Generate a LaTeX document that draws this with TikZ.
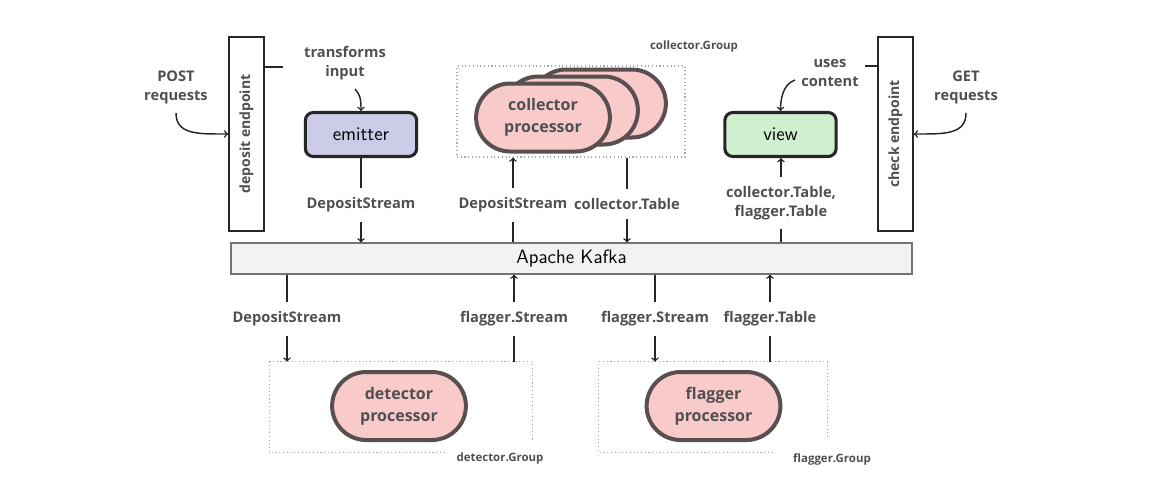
\documentclass[tikz,border=0pt]{standalone}
\usepackage{fontspec}
\setmainfont{Open Sans}
\usetikzlibrary{calc,positioning,arrows,shapes.misc,fit}

\definecolor{txt}{HTML}{505050}
\definecolor{pillfill}{HTML}{F8CACA}
\definecolor{pilldraw}{HTML}{594F4F}
\definecolor{emitfill}{HTML}{CCCCE8}
\definecolor{viewfill}{HTML}{CEF0CE}
\definecolor{kafkafill}{HTML}{F2F2F2}

\tikzset{
  lbl/.style={font=\bfseries\fontsize{11}{14.2}\selectfont,text=txt,align=center,inner sep=1pt,outer sep=6pt},
  grplbl/.style={font=\bfseries\fontsize{8.6}{10}\selectfont,text=txt},
  endpt/.style={draw=black!85,line width=1.3pt,fill=white,minimum width=26.25pt,minimum height=145.5pt},
  eptxt/.style={font=\bfseries\fontsize{10.5}{12}\selectfont,text=txt},
  pill/.style={rounded rectangle,draw=pilldraw,line width=3pt,fill=pillfill,minimum width=107pt,minimum height=51pt,
    align=center,text=txt,font=\bfseries\fontsize{12}{16.5}\selectfont},
  svc/.style={draw=black!85,line width=2.3pt,rounded corners=6pt,minimum width=83.5pt,minimum height=33pt,
    font=\sffamily\fontsize{14.5}{16}\selectfont},
  kafkabar/.style={draw=black!55,line width=.9pt,fill=kafkafill,minimum width=510.75pt,minimum height=23.25pt,
    font=\sffamily\fontsize{14.5}{16}\selectfont},
  grpbox/.style={inner sep=0pt,minimum height=67.5pt},
  grp/.style={draw=gray!70,dotted,line width=.8pt},
  flow/.style={line width=1.1pt,draw=black!85},
}

\begin{document}
\begin{tikzpicture}[x=0.75pt,y=-0.75pt]
  \useasboundingbox (0,0) rectangle (1149,490);

  % endpoints
  \node[endpt] (dep) at (246.5,134) {};
  \node[eptxt,rotate=90] (deptxt) at (dep) {deposit endpoint};
  \node[endpt] (chk) at (895.5,134) {};
  \node[eptxt,rotate=90] (chktxt) at (chk) {check endpoint};

  % emitter, view and kafka
  \node[svc,fill=emitfill] (emitter) at (361,134.5) {emitter};
  \node[svc,fill=viewfill] (view) at (780.5,134.5) {view};
  \node[kafkabar] (kafka) at (571.5,258.5) {Apache Kafka};

  % processors and their groups
  \node[grp,minimum width=171pt,minimum height=68.25pt] (cgrp) at (571,111.5) {};
  \foreach \k in {2,1}
  \node[pill] (cp\k) at ($(543,117.5)+(28*\k,-7*\k)$) {}
  ;
  \node[pill] (cp) at (543,117.5) {collector\\processor};

  \node[grpbox,minimum width=196.5pt] (dgrp) at (401,407) {};
  \draw[grp] ($(dgrp.south west)+(175,0)$) -- (dgrp.south west) -- (dgrp.north west)
    -- (dgrp.north east) -- ($(dgrp.north east)+(0,78)$);
  \node[pill] (det) at (399,406) {detector\\processor};

  \node[grpbox,minimum width=171pt] (fgrp) at (713,407) {};
  \draw[grp] ($(fgrp.south west)+(174,0)$) -- (fgrp.south west) -- (fgrp.north west)
    -- (fgrp.north east) -- ($(fgrp.north east)+(0,78)$);
  \node[pill] (flg) at (713.5,406) {flagger\\processor};

  \node[grplbl] (cgl) at (694,47) {collector.Group};
  \node[grplbl] (dgl) at (500,459) {detector.Group};
  \node[grplbl] (fgl) at (832,459) {flagger.Group};

  % requests
  \node[lbl] (post) at (176,87) {POST\\requests};
  \draw[flow,->] (post.south) .. controls +(0,22) and +(-30,0) .. (dep.west);
  \node[lbl] (get) at (966,87) {GET\\requests};
  \draw[flow,->] (get.south) .. controls +(0,22) and +(30,0) .. (chk.east);

  \node[lbl] (tin) at (345,63) {transforms\\input};
  \coordinate (tinend) at (283,67);
  \draw[flow] (tinend) -- (tinend -| dep.east);
  \draw[flow,->] ($(tin.south)+(10,0)$) .. controls +(6,6) and +(0,-10) .. (emitter.north);

  \node[lbl] (uc) at (830,73) {uses\\content};
  \coordinate (ucend) at (865,66);
  \draw[flow] (ucend) -- (ucend -| chk.west);
  \draw[flow,->] ($(uc.west)+(3,7)$) .. controls +(-12,4) and +(0,-12) .. (view.north);

  % topics above kafka
  \node[lbl] (ds1) at (361,205) {DepositStream};
  \draw[flow] (emitter) -- (ds1);
  \draw[flow,->] (ds1) -- (ds1 |- kafka.north);

  \node[lbl] (ds2) at (513,205) {DepositStream};
  \draw[flow] (kafka.north -| ds2) -- (ds2);
  \draw[flow,->] (ds2) -- (ds2 |- cgrp.south);

  \node[lbl] (ct) at (627,204) {collector.Table};
  \draw[flow] (ct |- cgrp.south) -- (ct);
  \draw[flow,->] (ct) -- (ct |- kafka.north);

  \node[lbl] (cft) at (781,203) {collector.Table,\\flagger.Table};
  \draw[flow] (kafka.north -| cft) -- (cft);
  \draw[flow,->] (cft) -- (cft |- view.south);

  % topics below kafka
  \foreach \n/\x/\t in {ds3/287/DepositStream,fs1/514/flagger.Stream,fs2/655/flagger.Stream,ft/770/flagger.Table}
  \node[lbl] (\n) at (\x,319) {\t}
  ;
  \draw[flow] (kafka.south -| ds3) -- (ds3);
  \draw[flow,->] (ds3) -- (ds3 |- dgrp.north);
  \draw[flow] (fs1 |- dgrp.north) -- (fs1);
  \draw[flow,->] (fs1) -- (fs1 |- kafka.south);
  \draw[flow] (kafka.south -| fs2) -- (fs2);
  \draw[flow,->] (fs2) -- (fs2 |- fgrp.north);
  \draw[flow] (ft |- fgrp.north) -- (ft);
  \draw[flow,->] (ft) -- (ft |- kafka.south);
\end{tikzpicture}
\end{document}
